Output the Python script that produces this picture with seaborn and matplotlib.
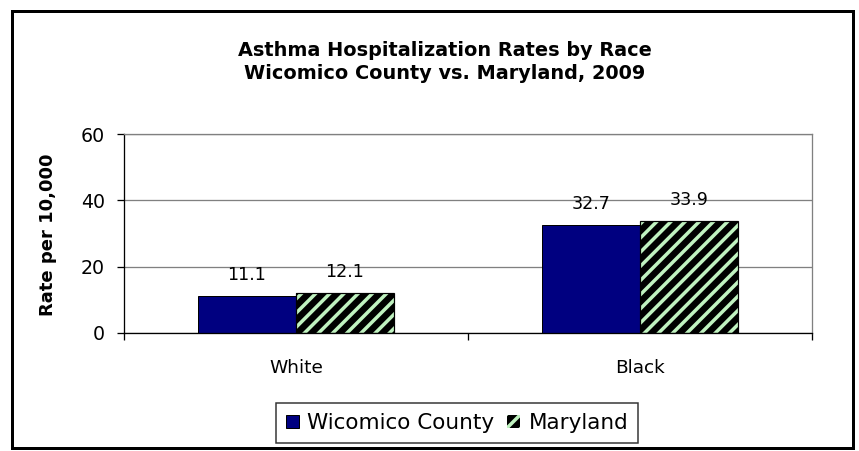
import numpy as np
import pandas as pd
import matplotlib
matplotlib.use("Agg")
import matplotlib.pyplot as plt
import seaborn as sns
from matplotlib.patches import Rectangle

# ---- data ----
races = ["White", "Black"]
series = ["Wicomico County", "Maryland"]
wicomico = [11.1, 32.7]
maryland = [12.1, 33.9]
yticks = [0, 20, 40, 60]
title = "Asthma Hospitalization Rates by Race\nWicomico County vs. Maryland, 2009"
ylabel = "Rate per 10,000"

DPI = 85
W, H = 859, 451


def pt(px):
    return px * 72.0 / DPI


BLUE = "#000080"
GREEN = "#c0f2c0"
GRAY = "#808080"

sns.set_theme(style="white")
plt.rcParams["font.family"] = ["DejaVu Sans"]
plt.rcParams["hatch.linewidth"] = pt(3.5)
plt.rcParams["text.color"] = "black"
plt.rcParams["xtick.color"] = "black"
plt.rcParams["ytick.color"] = "black"
plt.rcParams["axes.labelcolor"] = "black"

df = pd.DataFrame({
    "Race": races * 2,
    "Region": [series[0]] * len(races) + [series[1]] * len(races),
    "Rate": wicomico + maryland,
})

fig = plt.figure(figsize=(W / DPI, H / DPI), dpi=DPI)
fig.patch.set_facecolor("white")
ax = fig.add_axes([124 / W, 1 - 333 / H, (812 - 124) / W, (333 - 134) / H])

sns.barplot(data=df, x="Race", y="Rate", hue="Region", order=races,
            hue_order=series, palette=[BLUE, "black"], width=0.57, gap=0,
            errorbar=None, saturation=1, legend=False, ax=ax)

c_wic, c_md = ax.containers[0], ax.containers[1]
for p in c_wic:
    p.set_facecolor(BLUE)
    p.set_edgecolor("black")
    p.set_linewidth(pt(1))
for p in c_md:
    p.set_facecolor("black")
    p.set_edgecolor(GREEN)
    p.set_hatch("//")
    p.set_linewidth(0)
    outline = Rectangle(p.get_xy(), p.get_width(), p.get_height(),
                        fill=False, edgecolor="black", linewidth=pt(1.2),
                        zorder=p.get_zorder() + 0.1)
    ax.add_patch(outline)

for cont, vals in ((c_wic, wicomico), (c_md, maryland)):
    ax.bar_label(cont, labels=[f"{v:.1f}" for v in vals], padding=pt(12),
                 fontsize=pt(17.5), color="black")

ax.set_ylim(yticks[0], yticks[-1])
ax.set_xlim(-0.5, len(races) - 0.5)
ax.set_yticks(yticks)
ax.set_yticklabels([str(v) for v in yticks])
ax.set_xlabel("")
ax.set_ylabel("")
ax.set_axisbelow(True)
ax.yaxis.grid(True, color=GRAY, linewidth=pt(1.3))
ax.xaxis.grid(False)

for s in ("left", "bottom"):
    ax.spines[s].set_color("black")
    ax.spines[s].set_linewidth(pt(1.3))
for s in ("top", "right"):
    ax.spines[s].set_color(GRAY)
    ax.spines[s].set_linewidth(pt(1.3))

ax.tick_params(axis="y", which="major", direction="out", length=pt(7), width=pt(1.3),
               color="black", labelcolor="black", labelsize=pt(19), pad=pt(12), left=True)
ax.set_xticks(np.arange(-0.5, len(races) + 0.5, 1.0), minor=True)
ax.tick_params(axis="x", which="major", length=0, labelcolor="black",
               labelsize=pt(18.5), pad=pt(26))
ax.tick_params(axis="x", which="minor", direction="out", length=pt(7), width=pt(1.3),
               color="black", bottom=True)

fig.text(48 / W, 1 - 235 / H, ylabel, rotation=90, ha="center", va="center",
         fontsize=pt(18), fontweight="bold", color="black")
fig.text(445 / W, 1 - 62 / H, title, ha="center", va="center",
         fontsize=pt(19.3), fontweight="bold", linespacing=1.25, color="black")

leg = fig.legend(handles=[c_wic[0], c_md[0]], labels=series, loc="center",
                 bbox_to_anchor=(457 / W, 1 - 423 / H), bbox_transform=fig.transFigure,
                 ncol=2, frameon=True, fancybox=False, shadow=False,
                 fontsize=pt(21.5), handlelength=0.6, handleheight=0.6,
                 handletextpad=0.4, columnspacing=0.6, borderpad=0.45,
                 borderaxespad=0)
leg.get_frame().set_edgecolor("black")
leg.get_frame().set_linewidth(pt(1.5))
for t in leg.get_texts():
    t.set_color("black")

fig.add_artist(Rectangle((12 / W, 1 - 448 / H), (853 - 12) / W, (448 - 11) / H,
                         transform=fig.transFigure, fill=False, edgecolor="black",
                         linewidth=pt(3)))

fig.savefig("out.png", dpi=DPI, facecolor="white")
